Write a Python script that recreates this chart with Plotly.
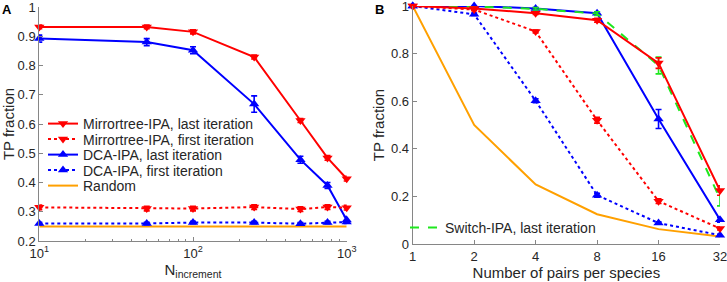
import plotly.graph_objects as go

# ---------------- Panel A data ----------------
n_increment = [10, 50, 100, 250, 500, 750, 1000]
mirror_last_A = [0.932, 0.932, 0.915, 0.829, 0.612, 0.484, 0.413]
mirror_last_A_err = [0.006, 0.006, 0.007, 0.007, 0.007, 0.008, 0.008]
mirror_first_A = [0.315, 0.311, 0.311, 0.316, 0.309, 0.316, 0.314]
mirror_first_A_err = [0.008, 0.008, 0.008, 0.008, 0.008, 0.008, 0.008]
dca_last_A = [0.892, 0.880, 0.852, 0.668, 0.478, 0.390, 0.272]
dca_last_A_err = [0.012, 0.012, 0.012, 0.028, 0.012, 0.010, 0.012]
dca_first_A = [0.260, 0.260, 0.263, 0.263, 0.259, 0.263, 0.265]
dca_first_A_err = [0.004, 0.004, 0.004, 0.004, 0.004, 0.004, 0.004]
random_A = [0.25, 0.25, 0.25, 0.25, 0.25, 0.25, 0.25]

# ---------------- Panel B data ----------------
pairs = [1, 2, 4, 8, 16, 32]
mirror_last_B = [1.0, 0.99, 0.97, 0.94, 0.76, 0.225]
mirror_last_B_err = [0.003, 0.005, 0.006, 0.008, 0.022, 0.02]
mirror_first_B = [1.0, 0.985, 0.893, 0.52, 0.18, 0.065]
mirror_first_B_err = [0.003, 0.005, 0.006, 0.012, 0.01, 0.006]
dca_last_B = [1.0, 1.0, 0.99, 0.97, 0.525, 0.102]
dca_last_B_err = [0.002, 0.003, 0.004, 0.006, 0.04, 0.01]
dca_first_B = [1.0, 0.965, 0.602, 0.205, 0.088, 0.037]
dca_first_B_err = [0.002, 0.005, 0.008, 0.008, 0.005, 0.004]
switch_last_B = [1.0, 0.998, 0.988, 0.968, 0.75, 0.19]
switch_last_B_err = [0.002, 0.004, 0.005, 0.008, 0.035, 0.03]
random_B = [1.0, 0.5, 0.25, 0.125, 0.0625, 0.03125]

tick_A_x = [10, 100, 1000]
tick_A_xtext = ["10<sup>1</sup>", "10<sup>2</sup>", "10<sup>3</sup>"]
tick_A_y = [0.2, 0.3, 0.4, 0.5, 0.6, 0.7, 0.8, 0.9, 1.0]
tick_A_ytext = ["0.2", "0.3", "0.4", "0.5", "0.6", "0.7", "0.8", "0.9", "1"]
tick_B_x = [1, 2, 4, 8, 16, 32]
tick_B_xtext = ["1", "2", "4", "8", "16", "32"]
tick_B_y = [0, 0.2, 0.4, 0.6, 0.8, 1.0]
tick_B_ytext = ["0", "0.2", "0.4", "0.6", "0.8", "1"]

RED = "#ff0000"
BLUE = "#0000ff"
GREEN = "#1ee81e"
ORANGE = "#ffa000"
FONT = "Liberation Sans, Arial, sans-serif"
TXT = "#262626"
W, H = 727, 282

fig = go.Figure()


def add(x, y, err, name, color, dash, symbol, xa, ya, legend, show=True, width=2):
    kw = {}
    if symbol:
        kw["marker"] = dict(symbol=symbol, size=9, color=color)
        mode = "lines+markers"
    else:
        mode = "lines"
    if err is not None:
        kw["error_y"] = dict(type="data", array=err, visible=True, color=color,
                             thickness=1.6, width=3)
    fig.add_trace(go.Scatter(x=x, y=y, name=name, mode=mode,
                             line=dict(color=color, width=width, dash=dash),
                             xaxis=xa, yaxis=ya, legend=legend, showlegend=show,
                             cliponaxis=False, **kw))


# Panel A (each legend entry in its own legend box for exact row spacing)
add(n_increment, random_A, None, "Random", ORANGE, "solid", None, "x", "y", "legend5")
add(n_increment, dca_first_A, dca_first_A_err, "DCA-IPA, first iteration", BLUE, "dot", "triangle-up", "x", "y", "legend4")
add(n_increment, dca_last_A, dca_last_A_err, "DCA-IPA, last iteration", BLUE, "solid", "triangle-up", "x", "y", "legend3")
add(n_increment, mirror_first_A, mirror_first_A_err, "Mirrortree-IPA, first iteration", RED, "dot", "triangle-down", "x", "y", "legend2")
add(n_increment, mirror_last_A, mirror_last_A_err, "Mirrortree-IPA, last iteration", RED, "solid", "triangle-down", "x", "y", "legend")

# Panel B
add(pairs, random_B, None, "Random", ORANGE, "solid", None, "x2", "y2", "legend6", False)
add(pairs, dca_first_B, dca_first_B_err, "DCA-IPA, first iteration", BLUE, "dot", "triangle-up", "x2", "y2", "legend6", False)
add(pairs, mirror_first_B, mirror_first_B_err, "Mirrortree-IPA, first iteration", RED, "dot", "triangle-down", "x2", "y2", "legend6", False)
add(pairs, dca_last_B, dca_last_B_err, "DCA-IPA, last iteration", BLUE, "solid", "triangle-up", "x2", "y2", "legend6", False)
add(pairs, switch_last_B, switch_last_B_err, "Switch-IPA, last iteration", GREEN, "dash", None, "x2", "y2", "legend6", True)
add(pairs, mirror_last_B, mirror_last_B_err, "Mirrortree-IPA, last iteration", RED, "solid", "triangle-down", "x2", "y2", "legend6", False)

axcol = "#868686"
tickfont = dict(family=FONT, size=13, color=TXT)
titlefont = dict(family=FONT, size=15, color=TXT)

common_axis = dict(showline=True, linecolor=axcol, linewidth=1, ticks="inside",
                   tickcolor=axcol, ticklen=4, showgrid=False, zeroline=False,
                   tickfont=tickfont, mirror=False, automargin=False,
                   ticklabeloverflow="allow")


def leg(x, yc):
    return dict(x=x / W, y=1 - yc / H, xanchor="left", yanchor="middle",
                bgcolor="rgba(0,0,0,0)", font=dict(family=FONT, size=14, color=TXT),
                itemwidth=30, borderwidth=0)


legend_rows = [124, 139.5, 155, 170.5, 186]
legx = 43

fig.update_layout(
    width=W, height=H,
    margin=dict(l=0, r=0, t=0, b=0, autoexpand=False),
    paper_bgcolor="white", plot_bgcolor="white",
    font=dict(family=FONT, size=13, color=TXT),
    showlegend=True,
    xaxis=dict(type="log", range=[1, 3], domain=[39.3 / W, 346.7 / W], anchor="y",
               tickvals=tick_A_x, ticktext=tick_A_xtext,
               minor=dict(ticks="inside", ticklen=2, tickcolor=axcol, dtick="D1"),
               title=dict(text="N<sub>increment</sub>", standoff=2, font=titlefont),
               **common_axis),
    yaxis=dict(range=[0.2, 1.0], domain=[1 - 241 / H, 1 - 7 / H], anchor="x",
               tickvals=tick_A_y, ticktext=tick_A_ytext,
               title=dict(text="TP fraction", standoff=2, font=titlefont),
               **common_axis),
    xaxis2=dict(type="log", range=[0, 1.50515], domain=[412.7 / W, 720 / W], anchor="y2",
                tickvals=tick_B_x, ticktext=tick_B_xtext,
                title=dict(text="Number of pairs per species", standoff=2, font=titlefont),
                **common_axis),
    yaxis2=dict(range=[0, 1.0], domain=[1 - 244 / H, 1 - 6 / H], anchor="x2",
                tickvals=tick_B_y, ticktext=tick_B_ytext,
                title=dict(text="TP fraction", standoff=2, font=titlefont),
                **common_axis),
    legend=leg(legx, legend_rows[0]),
    legend2=leg(legx, legend_rows[1]),
    legend3=leg(legx, legend_rows[2]),
    legend4=leg(legx, legend_rows[3]),
    legend5=leg(legx, legend_rows[4]),
    legend6=leg(405, 228),
    annotations=[
        dict(text="<b>A</b>", x=0.0, y=1.0, xref="paper", yref="paper",
             xanchor="left", yanchor="top", showarrow=False,
             font=dict(family=FONT, size=13, color="black")),
        dict(text="<b>B</b>", x=373 / W, y=1.0, xref="paper", yref="paper",
             xanchor="left", yanchor="top", showarrow=False,
             font=dict(family=FONT, size=13, color="black")),
    ],
)

fig.write_html("out.html", config={"displayModeBar": False},
               post_script="document.body.style.margin='0';document.body.style.overflow='hidden';")
